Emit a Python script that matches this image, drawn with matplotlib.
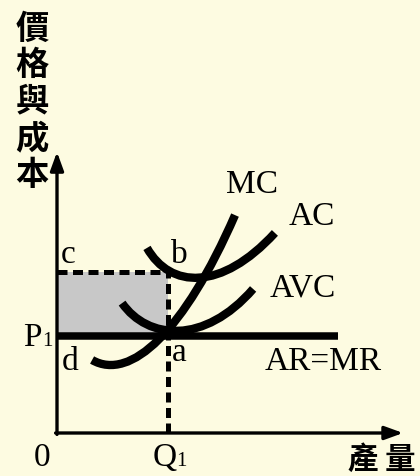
import matplotlib
matplotlib.use("Agg")
import matplotlib.pyplot as plt
from matplotlib.path import Path
from matplotlib.patches import PathPatch, Rectangle

# ---- data (economic units) ----
q1 = 3.92          # equilibrium quantity Q1
p1 = 3.43          # price P1 = AR = MR
p_c = 5.69         # average cost at Q1 (point b / c)
ar_end = 9.93      # right end of AR=MR line
x_max = 12.23      # arrow tip of quantity axis
y_max = 9.93       # arrow tip of price axis

# cubic Bezier control points for the cost curves
mc_x = [1.24, 2.60, 4.50, 6.29]
mc_y = [2.58, 1.80, 3.60, 7.70]
ac_x = [3.18, 4.00, 5.80, 7.70]
ac_y = [6.54, 5.10, 5.00, 7.07]
avc_x = [2.30, 3.20, 5.20, 6.93]
avc_y = [4.59, 3.30, 3.10, 5.09]

curve_labels = ["MC", "AC", "AVC", "AR=MR"]
curve_label_pos = [(6.89, 8.76), (9.01, 7.63), (8.69, 5.12), (9.40, 2.51)]
point_labels = ["c", "b", "d", "a"]
point_label_pos = [(0.39, 6.29), (4.33, 6.29), (0.46, 2.51), (4.33, 2.83)]
y_title = "價格與成本"
x_title = "產量"

# ---- figure ----
bg = "#FDFBE1"
fig = plt.figure(figsize=(4.2, 4.76), dpi=100, facecolor=bg)
ax = fig.add_axes([0, 0, 1, 1])
ax.set_facecolor(bg)
k = 28.3
ax.set_xlim(-57 / k, (420 - 57) / k)
ax.set_ylim((433 - 476) / k, 433 / k)
ax.axis("off")

serif = "Liberation Serif"
cjk = ["Noto Sans CJK TC", "DejaVu Sans"]

# shaded rectangle (loss area)
ax.add_patch(Rectangle((0, p1), q1, p_c - p1, facecolor="#C8C8C8", edgecolor="none", zorder=1))

# dashed lines
ax.plot([0, q1], [p_c, p_c], color="black", lw=3.6, dashes=(2.0, 1.1), zorder=2)
ax.plot([q1, q1], [0, p_c], color="black", lw=3.6, dashes=(2.0, 1.1), zorder=2)

# axes with arrows
ax.annotate("", xy=(0, y_max), xytext=(0, -0.05),
            arrowprops=dict(arrowstyle="-|>,head_length=0.55,head_width=0.2",
                            lw=2.4, color="black", mutation_scale=20, shrinkA=0, shrinkB=0),
            zorder=3)
ax.annotate("", xy=(x_max, 0), xytext=(-0.05, 0),
            arrowprops=dict(arrowstyle="-|>,head_length=0.55,head_width=0.2",
                            lw=2.4, color="black", mutation_scale=20, shrinkA=0, shrinkB=0),
            zorder=3)

# AR = MR line
ax.plot([0, ar_end], [p1, p1], color="black", lw=5.4, solid_capstyle="butt", zorder=4)

codes = [Path.MOVETO, Path.CURVE4, Path.CURVE4, Path.CURVE4]
for cx, cy in [(mc_x, mc_y), (ac_x, ac_y), (avc_x, avc_y)]:
    path = Path(list(zip(cx, cy)), codes)
    ax.add_patch(PathPatch(path, facecolor="none", edgecolor="black", lw=6.0,
                           capstyle="butt", zorder=5))

# labels
for lab, (x, y) in zip(curve_labels, curve_label_pos):
    ax.text(x, y, lab, fontsize=24, family=serif, ha="center", va="center", zorder=6)
for lab, (x, y) in zip(point_labels, point_label_pos):
    ax.text(x, y, lab, fontsize=24, family=serif, ha="center", va="center", zorder=6)

ax.text(-0.53, -0.88, "0", fontsize=24, family=serif, ha="center", va="center")
ax.text(q1 - 0.12, -0.88, "Q", fontsize=24, family=serif, ha="center", va="center")
ax.text(q1 + 0.47, -1.0, "1", fontsize=15, family=serif, ha="center", va="center")
ax.text(-0.88, p1 - 0.07, "P", fontsize=24, family=serif, ha="center", va="center")
ax.text(-0.33, p1 - 0.2, "1", fontsize=15, family=serif, ha="center", va="center")

# Chinese axis titles
for i, ch in enumerate(y_title):
    ax.text(-0.88, 14.27 - i * 1.29, ch, fontsize=24, family=cjk, fontweight="bold",
            ha="center", va="center")
for i, ch in enumerate(x_title):
    ax.text(10.81 + i * 1.31, -0.95, ch, fontsize=22, family=cjk, fontweight="bold",
            ha="center", va="center")

fig.savefig("out.png", dpi=100, facecolor=bg)
